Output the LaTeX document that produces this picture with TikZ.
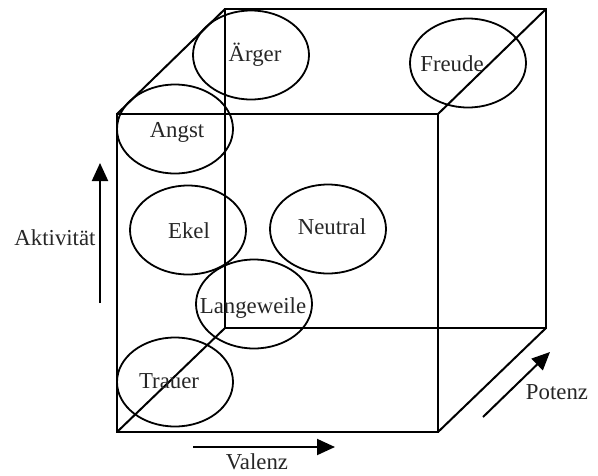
\documentclass[tikz,border=0pt]{standalone}
\usepackage{fontspec}
\setmainfont{Liberation Serif}
\usetikzlibrary{shapes.geometric,arrows.meta}
\begin{document}
\begin{tikzpicture}[x=1pt,y=-1pt,
  edge/.style={line width=2pt,line join=miter},
  emo/.style={ellipse,draw,line width=1.8pt,minimum width=116pt,minimum height=89pt,inner sep=0pt},
  lbl/.style={anchor=base,inner sep=0pt,font=\fontsize{22.8}{27}\selectfont,text=black!85},
  axis/.style={line width=2pt,-{Triangle[length=18pt,width=16pt]}}]
\useasboundingbox (0,0) rectangle (598,475);
% cube corners
\coordinate (f1) at (117,114);
\coordinate (f2) at (438,114);
\coordinate (f3) at (438,432);
\coordinate (f4) at (117,432);
\coordinate (b1) at (225,9);
\coordinate (b2) at (546,9);
\coordinate (b3) at (546,328);
\coordinate (b4) at (225,328);
\draw[edge] (f1) -- (f2) -- (f3) -- (f4) -- cycle;
\draw[edge] (b1) -- (b2) -- (b3) -- (b4) -- cycle;
\draw[edge] (f1) -- (b1);
\draw[edge] (f2) -- (b2);
\draw[edge] (f3) -- (b3);
\draw[edge] (f4) -- (b4);
% ellipses
\node[emo] (aergerE) at (251,55) {};
\node[emo] (angstE) at (175,129) {};
\node[emo] (freudeE) at (468,63) {};
\node[emo] (ekelE) at (188,230) {};
\node[emo] (neutralE) at (328,229) {};
\node[emo] (langE) at (254,304) {};
\node[emo] (trauerE) at (175,382) {};
% labels
\node[lbl] (aerger) at (255,61) {Ärger};
\node[lbl] (angst) at (177,137) {Angst};
\node[lbl] (freude) at (452,71) {Freude};
\node[lbl] (ekel) at (189,238) {Ekel};
\node[lbl] (neutral) at (332,234) {Neutral};
\node[lbl] (lang) at (253,313) {Langeweile};
\node[lbl] (trauer) at (169,388) {Trauer};
% axes
\coordinate (aS) at (100,303);
\coordinate (aE) at (100,163);
\draw[axis] (aS) -- (aE);
\node[lbl] (akt) at (55,245) {Aktivität};
\coordinate (vS) at (193,447);
\coordinate (vE) at (335,447);
\draw[axis] (vS) -- (vE);
\node[lbl] (val) at (257,469) {Valenz};
\coordinate (pS) at (483,417);
\coordinate (pE) at (550,352);
\draw[axis] (pS) -- (pE);
\node[lbl] (pot) at (557,399) {Potenz};
\end{tikzpicture}
\end{document}
